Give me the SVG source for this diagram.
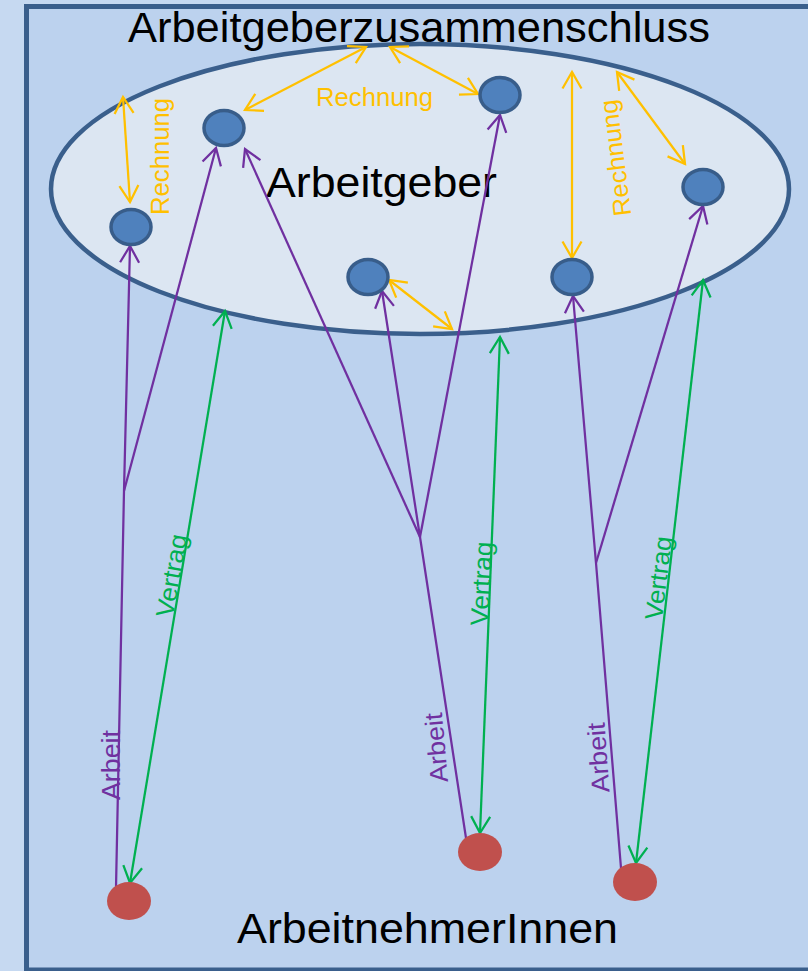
<svg xmlns="http://www.w3.org/2000/svg" width="808" height="971" viewBox="0 0 808 971">
<style>
.big{font-family:"Liberation Sans",Arial,sans-serif;font-size:43px;fill:#000}
.lbl{font-family:"Liberation Sans",Arial,sans-serif;font-size:25px}
.pl{stroke:#7030A0;stroke-width:2.25;fill:none}
.gl{stroke:#00B050;stroke-width:2.25;fill:none}
.ol{stroke:#FFC000;stroke-width:2.25;fill:none}
.bn{fill:#4F81BD;stroke:#385D8A;stroke-width:3.5}
.rn{fill:#C0504D}
</style>
<defs>
<marker id="ap" viewBox="-20 -12 24 24" refX="0" refY="0" markerWidth="24" markerHeight="24" markerUnits="userSpaceOnUse" orient="auto-start-reverse"><path d="M-16.5,-9.5 L0,0 L-16.5,9.5" fill="none" stroke="#7030A0" stroke-width="2.25"/></marker>
<marker id="ag" viewBox="-20 -12 24 24" refX="0" refY="0" markerWidth="24" markerHeight="24" markerUnits="userSpaceOnUse" orient="auto-start-reverse"><path d="M-16.5,-9.5 L0,0 L-16.5,9.5" fill="none" stroke="#00B050" stroke-width="2.25"/></marker>
<marker id="ao" viewBox="-20 -12 24 24" refX="0" refY="0" markerWidth="24" markerHeight="24" markerUnits="userSpaceOnUse" orient="auto-start-reverse"><path d="M-16.5,-9.5 L0,0 L-16.5,9.5" fill="none" stroke="#FFC000" stroke-width="2.25"/></marker>
</defs>
<rect x="0" y="0" width="808" height="971" fill="#C6D9F1"/>
<g id="zusammenschluss">
<rect x="26.5" y="6.5" width="800" height="963.5" fill="#BCD2EE" stroke="#3A5F8C" stroke-width="5"/>
<text class="big" x="128" y="42" textLength="582" lengthAdjust="spacingAndGlyphs">Arbeitgeberzusammenschluss</text>
</g>
<g id="arbeitgeber">
<ellipse cx="420" cy="189" rx="369" ry="145" fill="#DCE6F2" stroke="#3A5F8C" stroke-width="4.5"/>
<text class="big" x="266" y="197" textLength="231" lengthAdjust="spacingAndGlyphs">Arbeitgeber</text>
</g>
<g id="arbeitnehmer">
<text class="big" x="237" y="943" textLength="381" lengthAdjust="spacingAndGlyphs">ArbeitnehmerInnen</text>
</g>
<g id="connectors">
<polyline class="pl" points="116,888 124,491 130,246" marker-end="url(#ap)"/>
<line class="pl" x1="124" y1="491" x2="216" y2="148" marker-end="url(#ap)"/>
<polyline class="pl" points="466,838 420,537 382,291" marker-end="url(#ap)"/>
<line class="pl" x1="420" y1="537" x2="500" y2="115" marker-end="url(#ap)"/>
<line class="pl" x1="420" y1="537" x2="245" y2="149" marker-end="url(#ap)"/>
<polyline class="pl" points="621,868 596,563 573,296" marker-end="url(#ap)"/>
<line class="pl" x1="596" y1="563" x2="703" y2="206" marker-end="url(#ap)"/>
<line class="gl" x1="130" y1="883" x2="225" y2="311" marker-start="url(#ag)" marker-end="url(#ag)"/>
<line class="gl" x1="480" y1="833" x2="500" y2="337" marker-start="url(#ag)" marker-end="url(#ag)"/>
<line class="gl" x1="636" y1="863" x2="703" y2="280" marker-start="url(#ag)" marker-end="url(#ag)"/>
<line class="ol" x1="123" y1="97" x2="130" y2="202" marker-start="url(#ao)" marker-end="url(#ao)"/>
<line class="ol" x1="245" y1="110" x2="366" y2="47" marker-start="url(#ao)" marker-end="url(#ao)"/>
<line class="ol" x1="390" y1="47" x2="478" y2="94" marker-start="url(#ao)" marker-end="url(#ao)"/>
<line class="ol" x1="572" y1="72" x2="572" y2="258" marker-start="url(#ao)" marker-end="url(#ao)"/>
<line class="ol" x1="617" y1="72" x2="685" y2="164" marker-start="url(#ao)" marker-end="url(#ao)"/>
<line class="ol" x1="389" y1="280" x2="452" y2="329" marker-start="url(#ao)" marker-end="url(#ao)"/>
<text class="lbl" fill="#FFC000" x="316" y="106" textLength="117" lengthAdjust="spacingAndGlyphs">Rechnung</text>
<text class="lbl" fill="#FFC000" text-anchor="middle" transform="translate(169,156.5) rotate(-90)" textLength="117" lengthAdjust="spacingAndGlyphs">Rechnung</text>
<text class="lbl" fill="#FFC000" text-anchor="middle" transform="translate(624,157) rotate(-97)" textLength="117" lengthAdjust="spacingAndGlyphs">Rechnung</text>
<text class="lbl" fill="#00B050" text-anchor="middle" transform="translate(180,577) rotate(-80)" textLength="84" lengthAdjust="spacingAndGlyphs">Vertrag</text>
<text class="lbl" fill="#00B050" text-anchor="middle" transform="translate(490,584) rotate(-87)" textLength="84" lengthAdjust="spacingAndGlyphs">Vertrag</text>
<text class="lbl" fill="#00B050" text-anchor="middle" transform="translate(667,579) rotate(-83)" textLength="84" lengthAdjust="spacingAndGlyphs">Vertrag</text>
<text class="lbl" fill="#7030A0" text-anchor="middle" transform="translate(120,765) rotate(-90)" textLength="70" lengthAdjust="spacingAndGlyphs">Arbeit</text>
<text class="lbl" fill="#7030A0" text-anchor="middle" transform="translate(445,747) rotate(-95)" textLength="70" lengthAdjust="spacingAndGlyphs">Arbeit</text>
<text class="lbl" fill="#7030A0" text-anchor="middle" transform="translate(607,757) rotate(-94)" textLength="70" lengthAdjust="spacingAndGlyphs">Arbeit</text>
</g>
<g id="n1"><ellipse class="bn" cx="131" cy="227" rx="20" ry="17.5"/></g>
<g id="n2"><ellipse class="bn" cx="224" cy="128" rx="20" ry="17.5"/></g>
<g id="n3"><ellipse class="bn" cx="500" cy="95" rx="20" ry="17.5"/></g>
<g id="n4"><ellipse class="bn" cx="703" cy="187" rx="20" ry="17.5"/></g>
<g id="n5"><ellipse class="bn" cx="368" cy="277" rx="20" ry="17.5"/></g>
<g id="n6"><ellipse class="bn" cx="572" cy="277" rx="20" ry="17.5"/></g>
<g id="r1"><ellipse class="rn" cx="129" cy="901" rx="22" ry="19"/></g>
<g id="r2"><ellipse class="rn" cx="480" cy="852" rx="22" ry="19"/></g>
<g id="r3"><ellipse class="rn" cx="635" cy="882" rx="22" ry="19"/></g>
</svg>
